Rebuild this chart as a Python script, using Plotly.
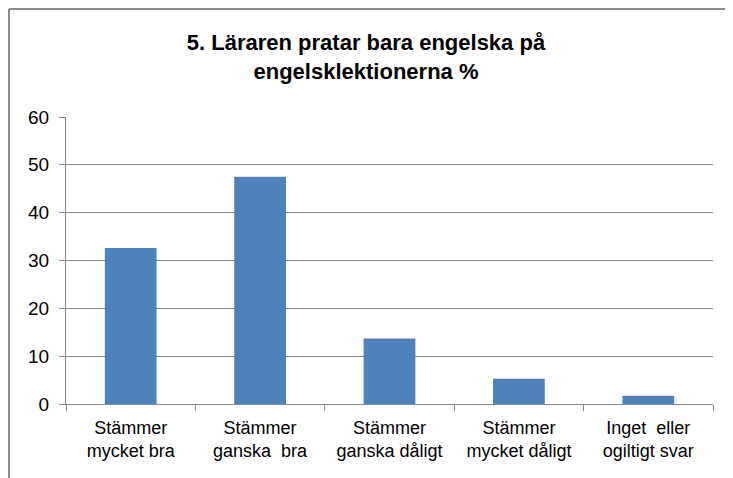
import plotly.graph_objects as go

categories = ["Stämmer<br>mycket bra", "Stämmer<br>ganska\u00a0 bra", "Stämmer<br>ganska dåligt",
              "Stämmer<br>mycket dåligt", "Inget\u00a0 eller<br>ogiltigt svar"]
values = [32.6, 47.5, 13.7, 5.3, 1.7]
y_ticks = [0, 10, 20, 30, 40, 50, 60]
title_text = "<b>5. Läraren pratar bara engelska på<br>engelsklektionerna %</b>"

# page body has an 8px margin, so the figure starts at (8, 8) on screen
OFF = 8
W, H = 733 - OFF, 478 - OFF
L, R, T, B = 66 - OFF, 20, 117 - OFF, 74
pw, ph = W - L - R, H - T - B

def px_x(x):
    return (x - L) / pw

def px_y(y):
    return (H - B - y) / ph

fig = go.Figure(go.Bar(x=categories, y=values, marker=dict(color="#4F81BD", line=dict(width=0)),
                       width=0.4))

grid = "#888888"
fig.update_layout(
    width=W, height=H,
    margin=dict(l=L, r=R, t=T, b=B),
    paper_bgcolor="white", plot_bgcolor="white",
    font=dict(family="Liberation Sans, Arial, sans-serif", size=18, color="black"),
    title=dict(text=title_text, x=(366 - OFF) / W, xanchor="center", xref="container",
               y=1 - 42 / H, yanchor="top", yref="container",
               font=dict(size=22, color="black")),
    showlegend=False,
    xaxis=dict(type="category", tickson="boundaries", ticks="outside", ticklen=6,
               tickcolor=grid, showline=True, linecolor=grid, linewidth=1,
               showgrid=False, tickfont=dict(size=18), ticklabelstandoff=7),
    yaxis=dict(range=[0, 60], tickvals=y_ticks, ticks="outside", ticklen=6,
               tickcolor=grid, showline=True, linecolor=grid, linewidth=1,
               showgrid=True, gridcolor=grid, gridwidth=1, zeroline=False,
               tickfont=dict(size=19), ticklabelstandoff=6),
)

# outer chart border (top and left edges visible)
bx = px_x(1)
by = px_y(1)
fig.add_shape(type="line", xref="paper", yref="paper", x0=bx, x1=px_x(740), y0=by, y1=by,
              line=dict(color="#8c8c8c", width=2))
fig.add_shape(type="line", xref="paper", yref="paper", x0=bx, x1=bx, y0=by, y1=px_y(490),
              line=dict(color="#8c8c8c", width=2))

fig.write_html("out.html")
